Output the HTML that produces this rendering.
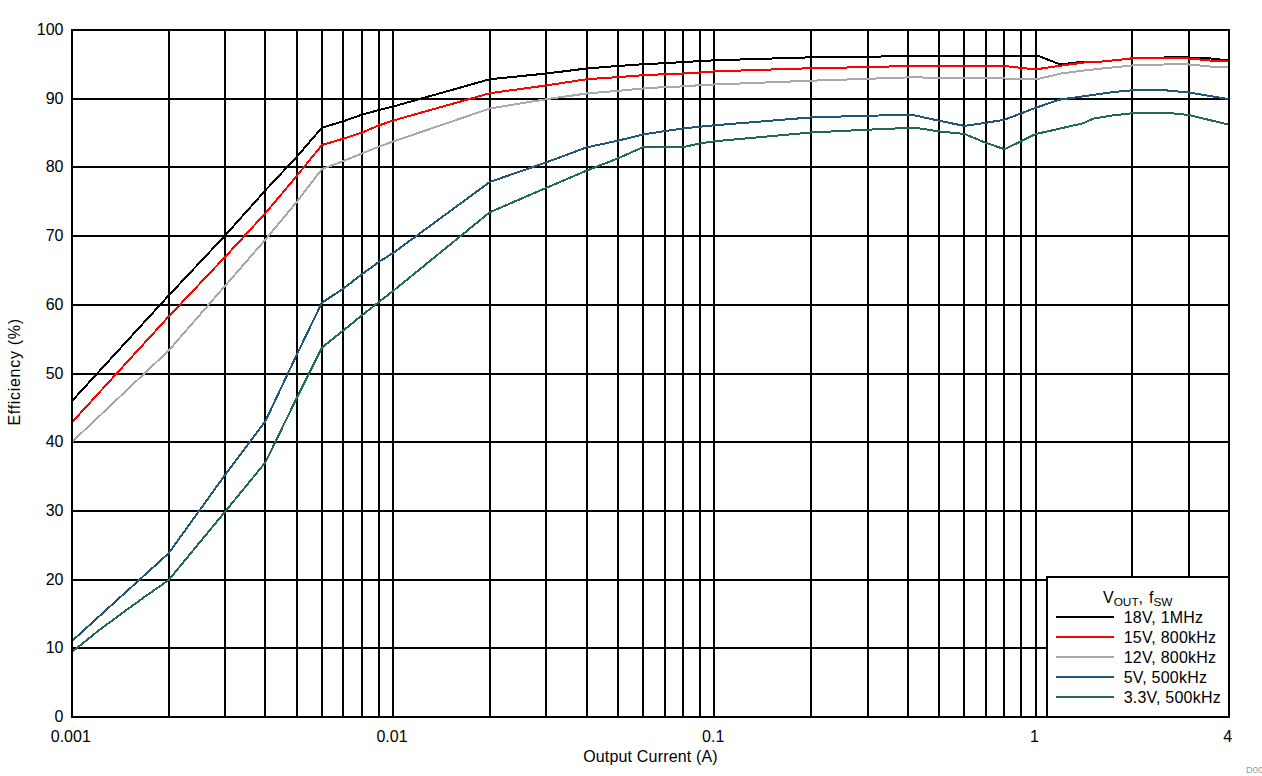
<!DOCTYPE html>
<html lang="en">
<head>
<meta charset="utf-8">
<title>Efficiency vs Output Current</title>
<style>
html,body{margin:0;padding:0;background:#fff;overflow:hidden}
body{width:1262px;height:776px;position:relative}
svg{display:block;position:absolute;left:0;top:0}
text{font-family:"Liberation Sans",Arial,Helvetica,sans-serif;font-size:16px;fill:#000}
.grid line{stroke:#000;stroke-width:2;shape-rendering:crispEdges}
.c{fill:none;stroke-width:2;shape-rendering:crispEdges;stroke-linejoin:miter}
.g{stroke-width:2;shape-rendering:crispEdges}
.sub{font-size:11.8px}
.id{font-size:9.33px;fill:#9a9a9a}
</style>
</head>
<body>
<svg width="1262" height="776" viewBox="0 0 1262 776">
<rect x="0" y="0" width="1262" height="776" fill="#ffffff"/>
<g class="grid">
<line x1="72" y1="30" x2="72" y2="717"/>
<line x1="169" y1="30" x2="169" y2="717"/>
<line x1="225" y1="30" x2="225" y2="717"/>
<line x1="265" y1="30" x2="265" y2="717"/>
<line x1="297" y1="30" x2="297" y2="717"/>
<line x1="322" y1="30" x2="322" y2="717"/>
<line x1="343" y1="30" x2="343" y2="717"/>
<line x1="362" y1="30" x2="362" y2="717"/>
<line x1="379" y1="30" x2="379" y2="717"/>
<line x1="393" y1="30" x2="393" y2="717"/>
<line x1="490" y1="30" x2="490" y2="717"/>
<line x1="546" y1="30" x2="546" y2="717"/>
<line x1="587" y1="30" x2="587" y2="717"/>
<line x1="618" y1="30" x2="618" y2="717"/>
<line x1="643" y1="30" x2="643" y2="717"/>
<line x1="665" y1="30" x2="665" y2="717"/>
<line x1="683" y1="30" x2="683" y2="717"/>
<line x1="700" y1="30" x2="700" y2="717"/>
<line x1="714" y1="30" x2="714" y2="717"/>
<line x1="811" y1="30" x2="811" y2="717"/>
<line x1="868" y1="30" x2="868" y2="717"/>
<line x1="908" y1="30" x2="908" y2="717"/>
<line x1="939" y1="30" x2="939" y2="717"/>
<line x1="964" y1="30" x2="964" y2="717"/>
<line x1="986" y1="30" x2="986" y2="717"/>
<line x1="1004" y1="30" x2="1004" y2="717"/>
<line x1="1021" y1="30" x2="1021" y2="717"/>
<line x1="1036" y1="30" x2="1036" y2="717"/>
<line x1="1132" y1="30" x2="1132" y2="717"/>
<line x1="1189" y1="30" x2="1189" y2="717"/>
<line x1="1229" y1="30" x2="1229" y2="717"/>
<line x1="71" y1="717" x2="1230" y2="717"/>
<line x1="71" y1="648" x2="1230" y2="648"/>
<line x1="71" y1="580" x2="1230" y2="580"/>
<line x1="71" y1="511" x2="1230" y2="511"/>
<line x1="71" y1="442" x2="1230" y2="442"/>
<line x1="71" y1="374" x2="1230" y2="374"/>
<line x1="71" y1="305" x2="1230" y2="305"/>
<line x1="71" y1="236" x2="1230" y2="236"/>
<line x1="71" y1="167" x2="1230" y2="167"/>
<line x1="71" y1="99" x2="1230" y2="99"/>
<line x1="71" y1="30" x2="1230" y2="30"/>
</g>
<g>
<polyline class="c" stroke="#000000" points="72.0,401.0 168.7,295.5 225.3,235.3 265.4,190.3 296.5,157.1 321.9,127.7 343.4,121.2 362.1,114.6 378.5,110.2 393.2,106.5 489.9,79.2 546.5,73.5 586.6,68.5 617.7,66.0 643.1,64.2 664.6,63.2 683.3,62.1 699.7,61.1 714.4,60.3 811.1,57.3 867.6,56.8 907.8,55.9 1035.6,55.9 1038.8,56.0 1059.6,64.2 1068.0,63.5 1076.0,62.5 1084.0,62.0 1093.0,62.3 1102.5,61.5 1122.3,59.5 1132.3,58.2 1164.0,57.5 1176.0,57.3 1189.3,57.5 1210.7,58.5 1229.0,60.4"/>
<polyline class="c" stroke="#ff0000" points="72.0,422.3 168.7,316.5 225.3,256.7 265.4,213.2 296.5,176.3 321.9,145.0 343.4,138.7 362.1,132.6 378.5,125.5 393.2,120.5 489.9,93.2 546.5,85.4 586.6,79.2 617.7,77.1 643.1,75.2 664.6,74.2 683.3,73.5 699.7,72.5 714.4,71.4 811.1,68.2 867.6,67.1 907.8,66.0 1004.5,66.0 1020.9,67.8 1035.6,69.4 1061.7,65.5 1083.9,62.5 1093.0,62.3 1102.5,61.5 1122.3,59.5 1132.3,58.4 1140.0,58.0 1184.0,58.0 1215.5,61.0 1229.0,61.0"/>
<polyline class="c" stroke="#a9a9a9" points="72.0,441.9 168.7,350.5 225.3,285.6 265.4,239.6 296.5,202.2 321.9,169.1 343.4,161.0 362.1,153.4 378.5,146.8 393.2,141.5 489.9,108.5 546.5,99.2 586.6,93.5 617.7,90.9 643.1,88.5 664.6,87.1 683.3,86.4 699.7,85.2 714.4,84.5 811.1,80.7 867.6,78.8 907.8,77.4 964.3,77.8 1004.5,78.5 1035.6,79.3 1040.0,78.5 1061.2,73.5 1083.8,70.5 1102.5,68.5 1122.3,66.5 1132.3,65.5 1140.0,65.2 1163.9,64.5 1176.0,64.2 1184.0,64.0 1215.5,67.0 1229.0,67.0"/>
<polyline class="c" stroke="#235574" points="72.0,641.0 168.7,553.2 225.3,474.6 265.4,421.2 296.5,355.2 321.9,302.7 343.4,288.5 362.1,274.2 378.5,262.2 393.2,253.0 489.9,181.9 546.5,162.3 586.6,147.4 617.7,140.7 643.1,134.5 664.6,131.1 683.3,128.5 699.7,126.7 714.4,125.3 811.1,117.4 867.6,115.7 907.8,115.0 912.8,115.0 938.9,120.7 964.3,125.9 985.8,122.8 1004.5,119.7 1020.9,113.5 1035.6,107.8 1059.9,99.6 1083.8,96.2 1113.6,92.0 1132.3,90.3 1161.0,89.9 1188.8,92.5 1229.0,99.1"/>
<polyline class="c" stroke="#226b48" points="72.0,652.0 96.0,632.6 120.1,614.6 144.5,597.0 168.7,580.0 225.3,511.4 265.4,462.4 296.5,398.5 321.9,347.6 343.4,330.5 362.1,315.2 378.5,302.3 393.2,290.9 489.9,212.2 546.5,187.8 586.6,170.6 617.7,158.5 643.1,147.1 683.3,147.1 699.7,143.5 714.4,141.3 811.1,132.5 867.6,129.7 889.3,128.8 907.8,127.8 915.7,127.8 938.9,131.4 964.3,133.9 985.8,142.8 1004.5,149.2 1020.9,141.3 1035.6,134.1 1059.9,128.6 1083.8,123.1 1093.1,118.7 1113.6,115.3 1132.3,113.3 1171.5,113.3 1188.8,115.0 1229.0,124.7"/>
</g>
<rect x="72" y="30" width="1157" height="687" fill="none" stroke="#000" stroke-width="2" shape-rendering="crispEdges"/>
<g>
<rect x="1047" y="577" width="182" height="140" fill="#fff" stroke="#000" stroke-width="2" shape-rendering="crispEdges"/>
<text y="602.6"><tspan x="1102.9">V</tspan><tspan class="sub" x="1113.7" dy="3">OUT</tspan><tspan x="1138.5" dy="-3">,</tspan><tspan x="1149.0">f</tspan><tspan class="sub" x="1153.4" dy="3">SW</tspan></text>
<line class="g" stroke="#000000" x1="1056" y1="617" x2="1114" y2="617"/>
<text x="1123.7" y="622.7" letter-spacing="0.22">18V, 1MHz</text>
<line class="g" stroke="#ff0000" x1="1056" y1="637" x2="1114" y2="637"/>
<text x="1123.7" y="642.7" letter-spacing="0.22">15V, 800kHz</text>
<line class="g" stroke="#a9a9a9" x1="1056" y1="657" x2="1114" y2="657"/>
<text x="1123.7" y="662.7" letter-spacing="0.22">12V, 800kHz</text>
<line class="g" stroke="#235574" x1="1056" y1="677" x2="1114" y2="677"/>
<text x="1123.7" y="682.7" letter-spacing="0.22">5V, 500kHz</text>
<line class="g" stroke="#226b48" x1="1056" y1="697" x2="1114" y2="697"/>
<text x="1123.7" y="702.7" letter-spacing="0.22">3.3V, 500kHz</text>
</g>
<g>
<text x="63.5" y="722.1" text-anchor="end">0</text>
<text x="63.5" y="653.1" text-anchor="end">10</text>
<text x="63.5" y="585.1" text-anchor="end">20</text>
<text x="63.5" y="516.1" text-anchor="end">30</text>
<text x="63.5" y="447.1" text-anchor="end">40</text>
<text x="63.5" y="379.1" text-anchor="end">50</text>
<text x="63.5" y="310.1" text-anchor="end">60</text>
<text x="63.5" y="241.1" text-anchor="end">70</text>
<text x="63.5" y="172.1" text-anchor="end">80</text>
<text x="63.5" y="104.1" text-anchor="end">90</text>
<text x="63.5" y="35.1" text-anchor="end">100</text>
</g>
<g>
<text x="70.8" y="742" text-anchor="middle">0.001</text>
<text x="392.0" y="742" text-anchor="middle">0.01</text>
<text x="713.2" y="742" text-anchor="middle">0.1</text>
<text x="1034.4" y="742" text-anchor="middle">1</text>
<text x="1227.8" y="742" text-anchor="middle">4</text>
</g>
<text x="583.2" y="761.6" letter-spacing="0.17">Output Current (A)</text>
<text transform="translate(19.9,425.6) rotate(-90)" letter-spacing="0.7">Efficiency (%)</text>
<text class="id" x="1246.1" y="773.4">D001</text>
</svg>
</body>
</html>
